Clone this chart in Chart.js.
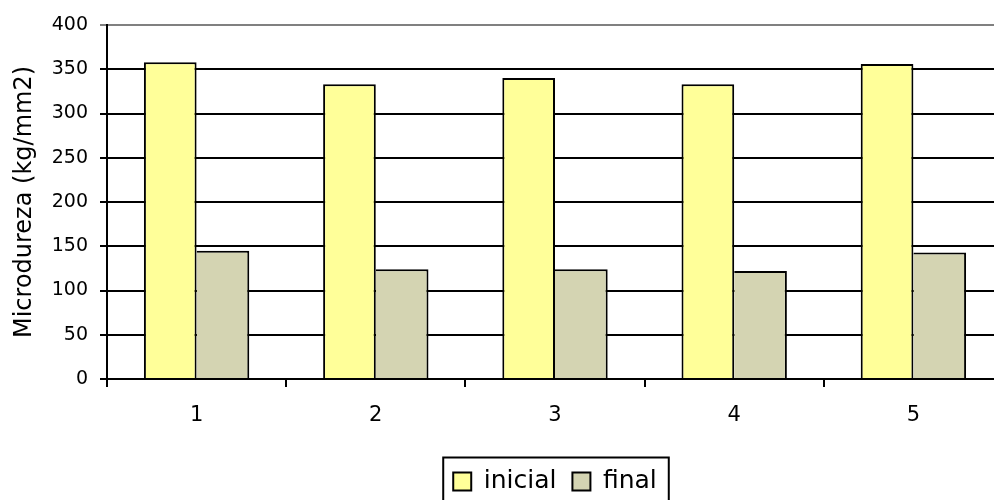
<!DOCTYPE html>
<html>
<head>
<meta charset="utf-8">
<script src="https://cdn.jsdelivr.net/npm/chart.js@4/dist/chart.umd.min.js"></script>
<style>
  html, body { margin: 0; padding: 0; background: #ffffff; overflow: hidden; }
  #wrap { width: 1010px; height: 510px; }
</style>
</head>
<body>
<div id="wrap"><canvas id="chart" width="1010" height="510"></canvas></div>
<script>
// Microdureza por amostra, antes (inicial) e depois (final)
const categories = ['1', '2', '3', '4', '5'];
const inicial = [358, 333, 340, 333, 356];
const final = [145, 124, 124, 122, 143];
const yTicks = [0, 50, 100, 150, 200, 250, 300, 350, 400];

const FONT = '"DejaVu Sans", Verdana, sans-serif';

// Black frame drawn round the legend items
const legendFrame = {
  id: 'legendFrame',
  afterDraw(chart) {
    const lg = chart.legend;
    if (!lg || !lg.legendHitBoxes || !lg.legendHitBoxes.length) return;
    const hb = lg.legendHitBoxes;
    const first = hb[0], last = hb[hb.length - 1];
    const cy = first.top + first.height / 2;
    const ctx = chart.ctx;
    ctx.save();
    ctx.strokeStyle = '#000000';
    ctx.lineWidth = 2;
    ctx.strokeRect(first.left - 10, cy - 24, (last.left + last.width + 12) - (first.left - 10), 48);
    ctx.restore();
  }
};

new Chart(document.getElementById('chart'), {
  type: 'bar',
  data: {
    labels: categories,
    datasets: [
      {
        label: 'inicial',
        data: inicial,
        backgroundColor: '#FFFF99',
        borderColor: '#000000',
        borderWidth: { top: 2, left: 2, right: 2, bottom: 0 },
        borderSkipped: false,
        categoryPercentage: 0.588,
        barPercentage: 1.0
      },
      {
        label: 'final',
        data: final,
        backgroundColor: '#D4D4B2',
        borderColor: '#000000',
        borderWidth: { top: 2, left: 0, right: 2, bottom: 0 },
        borderSkipped: false,
        categoryPercentage: 0.588,
        barPercentage: 1.0
      }
    ]
  },
  options: {
    responsive: false,
    animation: false,
    devicePixelRatio: 1,
    layout: { padding: { left: 0, right: 7, top: 25, bottom: 6 } },
    scales: {
      x: {
        grid: {
          offset: true,
          drawOnChartArea: false,
          drawTicks: true,
          tickLength: 8,
          color: '#000000',
          lineWidth: 2
        },
        border: { display: true, color: '#000000', width: 2 },
        ticks: {
          color: '#000000',
          padding: 16,
          font: { family: FONT, size: 21 }
        },
        afterFit(scale) { scale.height = 74; }
      },
      y: {
        min: 0,
        max: 400,
        afterBuildTicks(scale) { scale.ticks = yTicks.map(v => ({ value: v })); },
        grid: {
          color: ctx => (ctx.tick && ctx.tick.value === 400) ? '#808080' : '#000000',
          lineWidth: 2,
          tickLength: 7,
          drawTicks: true
        },
        border: { display: true, color: '#000000', width: 2 },
        ticks: {
          color: '#000000',
          padding: 12,
          font: { family: FONT, size: 19 }
        },
        title: {
          display: true,
          text: 'Microdureza (kg/mm2)',
          color: '#000000',
          padding: { top: 10, bottom: 0 },
          font: { family: FONT, size: 24, lineHeight: 1.2 }
        },
        afterFit(scale) { scale.width = 107; }
      }
    },
    plugins: {
      tooltip: { enabled: false },
      legend: {
        position: 'bottom',
        fullSize: false,
        labels: {
          color: '#000000',
          boxWidth: 18,
          boxHeight: 18,
          padding: 16,
          font: { family: FONT, size: 25 },
          generateLabels(chart) {
            return Chart.defaults.plugins.legend.labels.generateLabels(chart)
              .map(item => Object.assign(item, { lineWidth: 2, strokeStyle: '#000000' }));
          }
        }
      }
    }
  },
  plugins: [legendFrame]
});
</script>
</body>
</html>
